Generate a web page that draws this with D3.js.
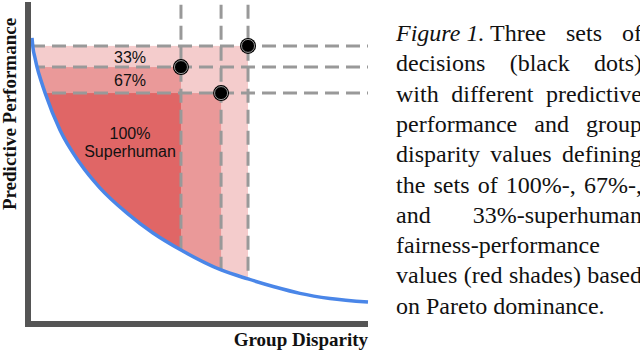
<!DOCTYPE html>
<html>
<head>
<meta charset="utf-8">
<script src="https://cdn.jsdelivr.net/npm/d3@7"></script>
<style>
  html, body { margin: 0; padding: 0; background: #fff; }
  svg { display: block; }
</style>
</head>
<body>
<svg id="fig" width="640" height="351"></svg>
<script>
// pareto front (blue curve)
const frontX = [0.03, 0.06, 0.12, 0.18, 0.30, 0.42, 0.86, 1.45, 2.05, 2.85, 3.62, 4.45, 5.64, 6.44, 7.24, 7.98, 8.87, 10.0];
const frontY = [8.82, 8.50, 8.19, 7.91, 7.48, 7.10, 5.95, 4.92, 4.14, 3.36, 2.74, 2.21, 1.59, 1.31, 1.06, 0.86, 0.70, 0.59];

// the three decisions (black dots)
const dotX = [4.45, 5.64, 6.44];
const dotY = [7.91, 7.10, 8.57];

// shades: how many dots a point has to be dominated by
const levelNames = ["33%", "67%", "100%"];
const levelNeed = [1, 2, 3];
const levelColors = ["#f4cccc", "#ea9999", "#e06666"];

const axisTitles = ["Group Disparity", "Predictive Performance"];

// first entry of the first line is the italic figure tag
const captionLines = [
  ["Figure 1.", "Three", "sets", "of"],
  ["decisions", "(black", "dots)"],
  ["with", "different", "predictive"],
  ["performance", "and", "group"],
  ["disparity", "values", "defining"],
  ["the", "sets", "of", "100%-,", "67%-,"],
  ["and", "33%-superhuman"],
  ["fairness-performance"],
  ["values", "(red", "shades)", "based"],
  ["on", "Pareto", "dominance."]
];

const svg = d3.select("#fig");

const x = d3.scaleLinear().domain([0, 10]).range([31, 368]);
const y = d3.scaleLinear().domain([0, 10]).range([321, 0]);

const front = d3.range(frontX.length);

// clip: everything above the front
const above = d3.area()
  .x(i => x(frontX[i]))
  .y0(0)
  .y1(i => y(frontY[i]))
  .curve(d3.curveMonotoneX);

svg.append("defs").append("clipPath")
  .attr("id", "aboveFront")
  .append("path")
  .attr("d", above(front));

const plot = svg.append("g").attr("clip-path", "url(#aboveFront)");

// shaded regions, lightest first
levelNeed.forEach((need, k) => {
  const rects = [];
  const combos = (start, picked) => {
    if (picked.length === need) {
      rects.push({ x1: d3.min(picked, j => dotX[j]), y1: d3.min(picked, j => dotY[j]) });
      return;
    }
    for (let j = start; j < dotX.length; j++) combos(j + 1, picked.concat(j));
  };
  combos(0, []);
  plot.append("g")
    .selectAll("rect")
    .data(rects)
    .join("rect")
    .attr("x", x(0))
    .attr("y", d => y(d.y1))
    .attr("width", d => x(d.x1) - x(0))
    .attr("height", d => y(0) - y(d.y1))
    .attr("fill", levelColors[k]);
});

// region labels
const lab = svg.append("g")
  .attr("font-family", "'Liberation Sans', Arial, sans-serif")
  .attr("font-size", 16)
  .attr("fill", "#111")
  .attr("text-anchor", "middle");
lab.append("text").attr("x", 130).attr("y", 63).text(levelNames[0]);
lab.append("text").attr("x", 130).attr("y", 86).text(levelNames[1]);
lab.append("text").attr("x", 130).attr("y", 139).text(levelNames[2]);
lab.append("text").attr("x", 130).attr("y", 157).text("Superhuman");

// dashed guide lines through the dots
const guides = plot.append("g")
  .attr("stroke", "#999")
  .attr("stroke-width", 3)
  .attr("stroke-dasharray", "14,7");

guides.selectAll("line.h")
  .data(dotY)
  .join("line")
  .attr("class", "h")
  .attr("x1", x(0)).attr("x2", x(10))
  .attr("y1", d => y(d)).attr("y2", d => y(d));

guides.selectAll("line.v")
  .data(dotX)
  .join("line")
  .attr("class", "v")
  .attr("x1", d => x(d)).attr("x2", d => x(d))
  .attr("y1", y(9.85)).attr("y2", y(0));

// the front itself
svg.append("path")
  .attr("d", d3.line().x(i => x(frontX[i])).y(i => y(frontY[i])).curve(d3.curveMonotoneX)(front))
  .attr("fill", "none")
  .attr("stroke", "#4a86e8")
  .attr("stroke-width", 3.5);

// dots
const dots = svg.append("g");
dots.selectAll("circle.dot")
  .data(dotX)
  .join("circle")
  .attr("class", "dot")
  .attr("cx", d => x(d))
  .attr("cy", (d, i) => y(dotY[i]))
  .attr("r", 8)
  .attr("fill", "#000");
dots.selectAll("circle.ring")
  .data(dotX)
  .join("circle")
  .attr("class", "ring")
  .attr("cx", d => x(d))
  .attr("cy", (d, i) => y(dotY[i]))
  .attr("r", 6.5)
  .attr("fill", "none")
  .attr("stroke", "#ddd")
  .attr("stroke-width", 0.7);

// axes (plain thick lines, no ticks)
svg.append("line")
  .attr("x1", 28).attr("x2", 28).attr("y1", 2).attr("y2", 327)
  .attr("stroke", "#555").attr("stroke-width", 6);
svg.append("line")
  .attr("x1", 25).attr("x2", 368).attr("y1", 324).attr("y2", 324)
  .attr("stroke", "#555").attr("stroke-width", 6);

const titles = svg.append("g")
  .attr("font-family", "'Liberation Serif', 'Times New Roman', serif")
  .attr("font-weight", "bold")
  .attr("font-size", 19)
  .attr("fill", "#111");
titles.append("text")
  .attr("x", 368).attr("y", 346)
  .attr("text-anchor", "end")
  .text(axisTitles[0]);
titles.append("text")
  .attr("transform", "translate(16,114) rotate(-90)")
  .attr("text-anchor", "middle")
  .text(axisTitles[1]);

// caption, justified between left and right edge
const capLeft = 396, capRight = 642, capTop = 41, capStep = 30.3;
const cap = svg.append("g")
  .attr("font-family", "'Liberation Serif', 'Times New Roman', serif")
  .attr("font-size", 24)
  .attr("fill", "#111");

captionLines.forEach((words, i) => {
  const yy = capTop + i * capStep;
  const last = i === captionLines.length - 1;
  if (last || words.length === 1) {
    cap.append("text").attr("x", capLeft).attr("y", yy).text(words.join(" "));
    return;
  }
  let units = words;
  if (i === 0) units = [words[0] + "|" + words[1]].concat(words.slice(2));
  const nodes = units.map(w => {
    const t = cap.append("text").attr("y", yy);
    if (w.includes("|")) {
      const [a, b] = w.split("|");
      t.append("tspan").attr("font-style", "italic").text(a);
      t.append("tspan").text(" " + b);
    } else {
      t.text(w);
    }
    return t;
  });
  const widths = nodes.map(n => n.node().getComputedTextLength());
  const gap = (capRight - capLeft - d3.sum(widths)) / (units.length - 1);
  let cx = capLeft;
  nodes.forEach((n, j) => {
    n.attr("x", cx);
    cx += widths[j] + gap;
  });
});
</script>
</body>
</html>
